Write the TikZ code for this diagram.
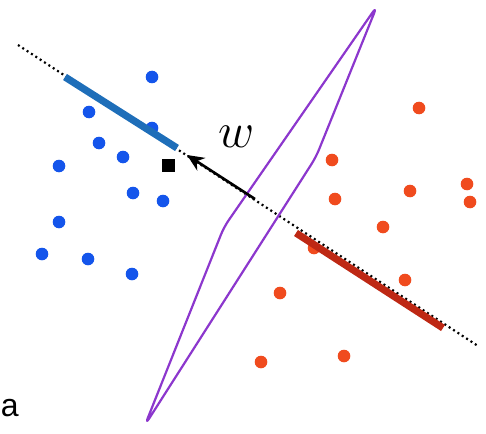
\documentclass[tikz,border=0pt]{standalone}
\usepackage{fontspec}
\newfontfamily\sansa{Liberation Sans}
\usetikzlibrary{arrows.meta}
\definecolor{dotblue}{RGB}{20,85,235}
\definecolor{lineblue}{RGB}{30,110,185}
\definecolor{dotred}{RGB}{240,75,30}
\definecolor{linered}{RGB}{190,40,20}
\definecolor{hyper}{RGB}{140,55,205}
\tikzset{
  bdot/.style={circle,fill=dotblue,inner sep=0pt,minimum size=6.3pt},
  rdot/.style={circle,fill=dotred,inner sep=0pt,minimum size=6.3pt},
  projline/.style={line width=1.1pt,dash pattern=on 1pt off 1.6pt},
  seg/.style={line width=3.6pt},
}
\begin{document}
\begin{tikzpicture}[x=0.5pt,y=-0.5pt]
\useasboundingbox (0,0) rectangle (486,433);
\clip (0,0) rectangle (486,433);
% blue points
\foreach \x/\y [count=\i] in {152/77,89/112,152/128,99/143,123/157,59/166,133/193,163/201,59/222,42/254,88/259,132/274}
  \node[bdot] (b\i) at (\x,\y) {};
% red points
\foreach \x/\y [count=\i] in {419/108,332/160,335/199,410/191,467/184,470/202,383/227,314/248,405/280,280/293,261/362,344/356}
  \node[rdot] (r\i) at (\x,\y) {};
% projection line
\coordinate (p1) at (18,45);
\coordinate (p2) at (478,346);
\draw[projline] (p1) -- (p2);
% projected segments
\coordinate (bs) at (65,77);
\coordinate (be) at (177,148);
\coordinate (rs) at (296,233);
\coordinate (re) at (443,328);
\draw[seg,lineblue] (bs) -- (be);
\draw[seg,linered] (rs) -- (re);
% separating shape
\coordinate (ht) at (377,6);
\coordinate (hr) at (316,157);
\coordinate (hb) at (145,425);
\coordinate (hl) at (224,227);
\draw[hyper,line width=1.1pt,rounded corners=4pt,line join=round] (ht) -- (hr) -- (hb) -- (hl) -- cycle;
% mean point
\node[fill=black,inner sep=0pt,minimum size=6.5pt] (m) at (168,165) {};
% w arrow
\coordinate (wt) at (255,199);
\coordinate (wh) at (187,155);
\draw[line width=1.3pt,-{Stealth[length=8.5pt,width=7.5pt]}] (wt) -- (wh);
\node[font=\fontsize{34}{36}\selectfont] (w) at (237,137) {$w$};
\node[font=\sansa\fontsize{16}{18}\selectfont,anchor=base west,inner sep=0pt] (a) at (0.5,416) {a};
\end{tikzpicture}
\end{document}
